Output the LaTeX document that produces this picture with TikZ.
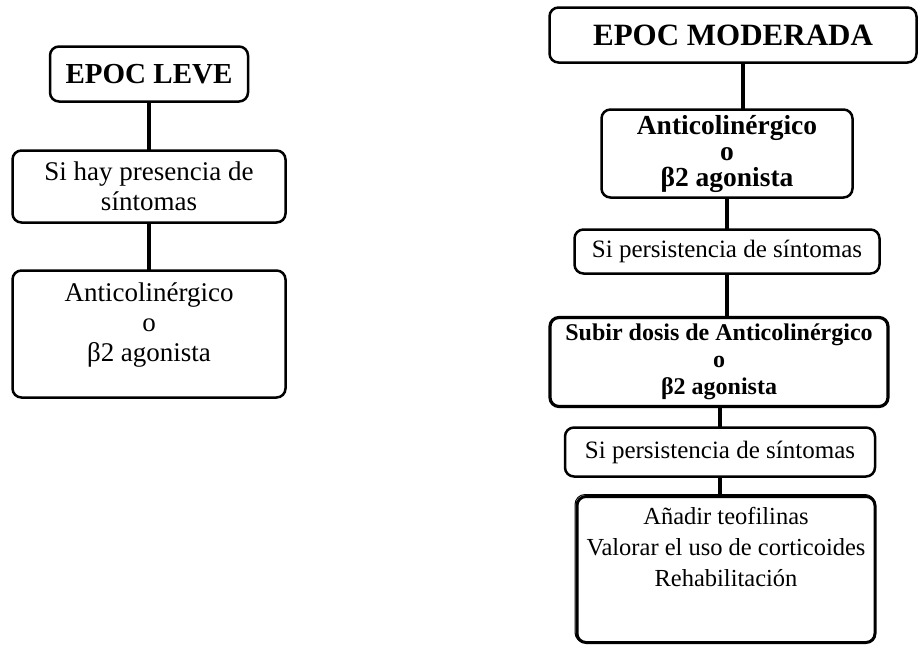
\documentclass[tikz,border=0pt]{standalone}
\usepackage{fontspec}
\setmainfont{Liberation Serif}
\usetikzlibrary{positioning}

\begin{document}
\begin{tikzpicture}[x=1pt, y=-1pt,
        titulo/.style={draw, line width=2.5pt, rounded corners=9pt, inner sep=0pt, outer sep=0pt,
            align=center, font=\fontsize{29}{33}\bfseries\selectfont},
        paso/.style={draw, line width=2.5pt, rounded corners=9pt, inner sep=0pt, outer sep=0pt,
            align=center, font=\fontsize{25}{30}\selectfont},
        pasob/.style={paso, font=\fontsize{24}{27}\bfseries\selectfont},
        enlace/.style={line width=4.5pt}
    ]
        \useasboundingbox (0,0) rectangle (921,648);

        % EPOC leve
        \node[titulo, minimum width=198pt, minimum height=55pt] (leve) at (149,74) {EPOC LEVE};
        \node[paso, font=\fontsize{27}{30}\selectfont, minimum width=273pt, minimum height=72pt, below=49pt of leve] (presL) {Si hay presencia de\\síntomas};
        \node[paso, font=\fontsize{27}{30}\selectfont, minimum width=273pt, minimum height=127pt, below=48pt of presL] (antiL) {Anticolinérgico\\o\\β2 agonista\\[-6pt]\mbox{}};

        % EPOC moderada
        \node[titulo, font=\fontsize{31}{35}\bfseries\selectfont, minimum width=367pt, minimum height=55pt] (moder) at (733,35) {EPOC MODERADA};
        \node[pasob, font=\fontsize{27.5}{26}\bfseries\selectfont, minimum width=251pt, minimum height=88pt, below=47pt of moder, xshift=-6pt] (antiR) {Anticolinérgico\\o\\β2 agonista};
        \node[paso, minimum width=305pt, minimum height=44pt, below=32pt of antiR] (pers1) {Si persistencia de síntomas};
        \node[pasob, line width=3.2pt, minimum width=338pt, minimum height=89pt, below=44pt of pers1, xshift=-8pt] (subir) {Subir dosis de Anticolinérgico\\o\\β2 agonista};
        \node[paso, minimum width=310pt, minimum height=49pt, below=21pt of subir, xshift=1pt] (pers2) {Si persistencia de síntomas};
        \node[paso, line width=3pt, font=\fontsize{24.5}{31}\selectfont, text depth=45pt, minimum width=298pt, minimum height=146pt, below=20pt of pers2, xshift=6pt] (anad) {Añadir teofilinas\\Valorar el uso de corticoides\\Rehabilitación};
        % segundo trazo del borde
        \draw[line width=1pt, rounded corners=10pt] ([xshift=-2pt,yshift=2pt]anad.north west) rectangle (anad.south east);

        \draw[enlace] (leve) -- (presL);
        \draw[enlace] (presL) -- (antiL);
        \draw[enlace] (moder.south) ++(10,0) coordinate (m1) -- (m1 |- antiR.north);
        \draw[enlace] (antiR.south) -- (antiR.south |- pers1.north);
        \draw[enlace] (pers1.south) -- (pers1.south |- subir.north);
        \draw[enlace] (pers2.north) -- (pers2.north |- subir.south);
        \draw[enlace] (pers2.south) -- (pers2.south |- anad.north);
    \end{tikzpicture}
\end{document}
